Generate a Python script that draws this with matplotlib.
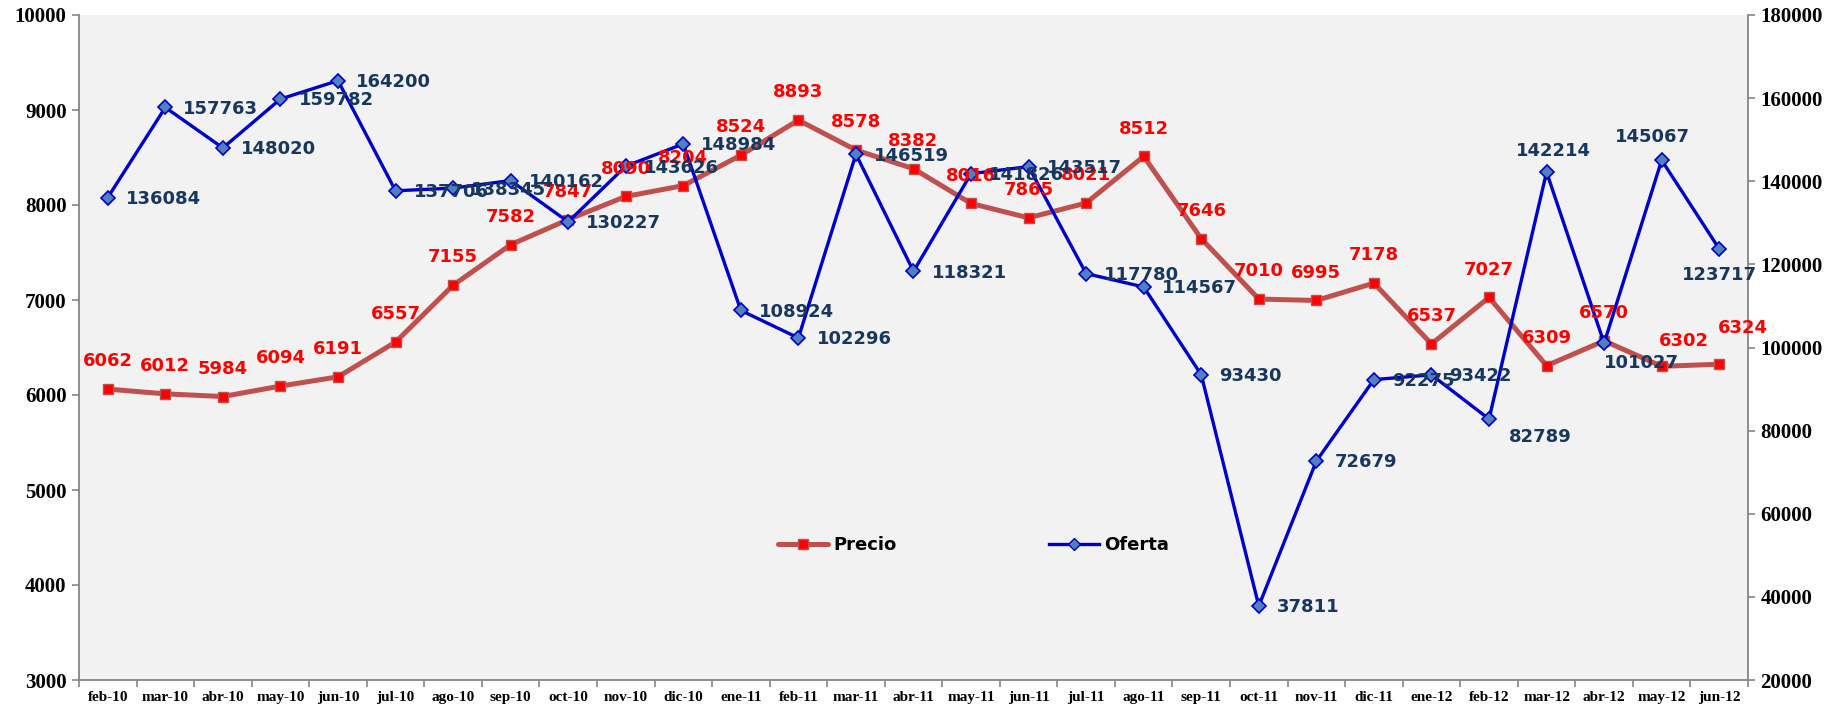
import numpy as np
import matplotlib
matplotlib.use('Agg')
import matplotlib.pyplot as plt
from matplotlib.lines import Line2D

# data
meses = ['feb-10', 'mar-10', 'abr-10', 'may-10', 'jun-10', 'jul-10', 'ago-10', 'sep-10',
         'oct-10', 'nov-10', 'dic-10', 'ene-11', 'feb-11', 'mar-11', 'abr-11', 'may-11',
         'jun-11', 'jul-11', 'ago-11', 'sep-11', 'oct-11', 'nov-11', 'dic-11', 'ene-12',
         'feb-12', 'mar-12', 'abr-12', 'may-12', 'jun-12']
precio = [6062, 6012, 5984, 6094, 6191, 6557, 7155, 7582, 7847, 8090, 8204, 8524, 8893, 8578,
          8382, 8016, 7865, 8021, 8512, 7646, 7010, 6995, 7178, 6537, 7027, 6309, 6570, 6302, 6324]
oferta = [136084, 157763, 148020, 159782, 164200, 137706, 138345, 140162, 130227, 143626,
          148984, 108924, 102296, 146519, 118321, 141826, 143517, 117780, 114567, 93430,
          37811, 72679, 92275, 93422, 82789, 142214, 101027, 145067, 123717]

# label placement tweaks (points) where the original labels were moved
precio_off = {27: (16, 18), 28: (17, 26)}
oferta_off = {24: (14, -13, 'left'), 25: (5, 15, 'center'), 26: (0, -14, 'left'),
              27: (-7, 17, 'center'), 28: (0, -19, 'center')}

x = np.arange(len(meses))

fig = plt.figure(figsize=(18.39, 7.07), dpi=100)
ax = fig.add_axes([79 / 1839, 27 / 707, (1748 - 79) / 1839, (680 - 15) / 707])
ax.set_facecolor('#F2F2F2')
ax2 = ax.twinx()

ax.plot(x, precio, color='#C0504D', lw=3.6, marker='s', markersize=6.5,
        markerfacecolor='#FF0000', markeredgecolor='#C0504D', markeredgewidth=1,
        solid_capstyle='round', zorder=3)
ax2.plot(x, oferta, color='#0000CC', lw=2.4, marker='D', markersize=7.5,
         markerfacecolor='#4F81BD', markeredgecolor='#0000CC', markeredgewidth=1.2, zorder=3)

ax.set_xlim(-0.5, len(meses) - 0.5)
ax.set_ylim(3000, 10000)
ax2.set_ylim(20000, 180000)
ax.set_yticks(np.arange(3000, 10001, 1000))
ax2.set_yticks(np.arange(20000, 180001, 20000))

ax.set_xticks(x)
ax.set_xticklabels(meses, fontfamily='Liberation Serif', fontweight='bold', fontsize=11)
ax.set_xticks(np.arange(-0.5, len(meses), 1), minor=True)
ax.tick_params(axis='x', which='major', length=0, pad=8)
ax.tick_params(axis='x', which='minor', length=5, color='#868686', width=1.2)
for a in (ax, ax2):
    a.tick_params(axis='y', length=5, color='#868686', width=1.2, labelsize=15, pad=4)
    for lab in a.get_yticklabels():
        lab.set_fontfamily('Liberation Serif')
        lab.set_fontweight('bold')
    for s in a.spines.values():
        s.set_color('#868686')
        s.set_linewidth(1.3)
    a.spines['top'].set_visible(False)
ax.spines['right'].set_visible(False)
ax2.spines['left'].set_visible(False)
ax2.spines['bottom'].set_visible(False)

# data labels, all drawn on the top axes so they sit over both lines
for i, v in enumerate(precio):
    dx, dy = precio_off.get(i, (0, 20))
    ax2.annotate(str(v), (x[i], v), xycoords=ax.transData, xytext=(dx, dy),
                 textcoords='offset points', ha='center', va='center',
                 color='#FF0000', fontsize=13, fontweight='bold', zorder=5)
for i, v in enumerate(oferta):
    dx, dy, ha = oferta_off.get(i, (13, -1, 'left'))
    ax2.annotate(str(v), (x[i], v), xytext=(dx, dy), textcoords='offset points',
                 ha=ha, va='center', color='#17375E', fontsize=13, fontweight='bold',
                 zorder=6)

handles = [Line2D([], [], color='#C0504D', lw=3.6, marker='s', markersize=6.5,
                  markerfacecolor='#FF0000', markeredgecolor='#C0504D', solid_capstyle='round'),
           Line2D([], [], color='#0000CC', lw=2.4, marker='D', markersize=6,
                  markerfacecolor='#4F81BD', markeredgecolor='#0000CC')]
ax2.legend(handles, ['Precio', 'Oferta'], loc='center', bbox_to_anchor=(0.536, 0.203),
           ncol=2, frameon=False, prop={'weight': 'bold', 'size': 13},
           handlelength=2.8, handletextpad=0.3, columnspacing=8.4, borderpad=0)

fig.savefig('out.png', dpi=100, facecolor='white')
